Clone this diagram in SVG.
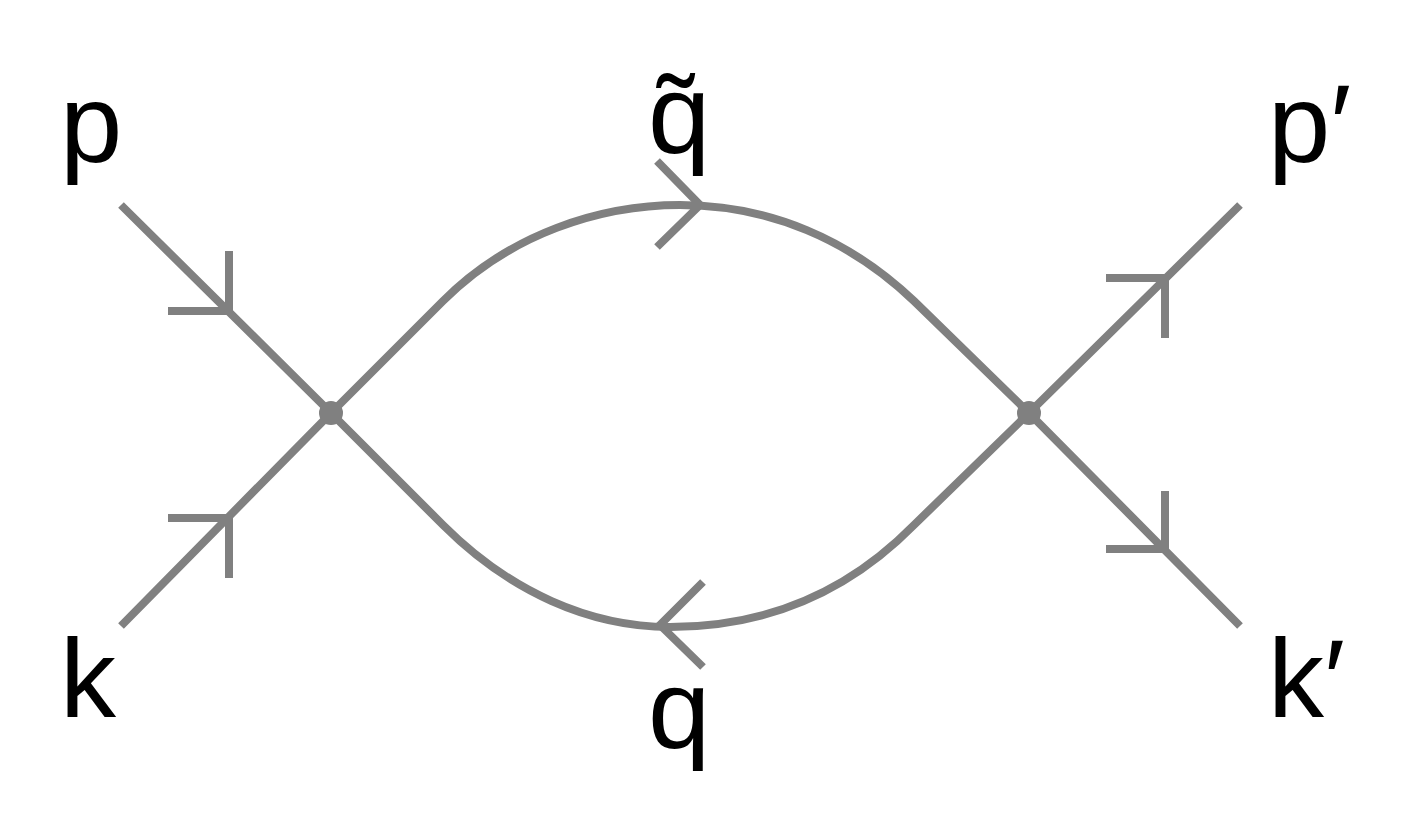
<svg xmlns="http://www.w3.org/2000/svg" width="1419" height="814" viewBox="0 0 1419 814">
<style>
.l{stroke:#808080;stroke-width:8;fill:none}
.t{font-family:"Liberation Sans",Arial,sans-serif;font-size:112px;fill:#000}
</style>
<rect width="1419" height="814" fill="#fff"/>
<g id="connectors">
<path class="l" d="M121,205L331,413L121,626"/>
<path class="l" d="M1240,205L1029,413L1240,626"/>
<path class="l" d="M331,413L443,301C510,234 600,205 680,205C770,205 850,240 914,301L1029,413"/>
<path class="l" d="M331,413L443,525C510,592 590,627 670,627C770,627 850,590 914,525L1029,413"/>
<path class="l" d="M168,311H229V251"/>
<path class="l" d="M168,518H229V578"/>
<path class="l" d="M1106,278H1165V338"/>
<path class="l" d="M1106,549H1165V491"/>
<path class="l" d="M657,161L700,205L657,247"/>
<path class="l" d="M703,582L660,625L703,667"/>
</g>
<g id="v1"><circle cx="331" cy="413" r="12" fill="#808080"/></g>
<g id="v2"><circle cx="1029" cy="413" r="12" fill="#808080"/></g>
<g id="labels">
<text class="t" x="60" y="162">p</text>
<text class="t" x="648" y="153">q̃</text>
<text class="t" x="1268" y="162">p′</text>
<text class="t" x="60" y="717">k</text>
<text class="t" x="648" y="748">q</text>
<text class="t" x="1268" y="717">k′</text>
</g>
</svg>
